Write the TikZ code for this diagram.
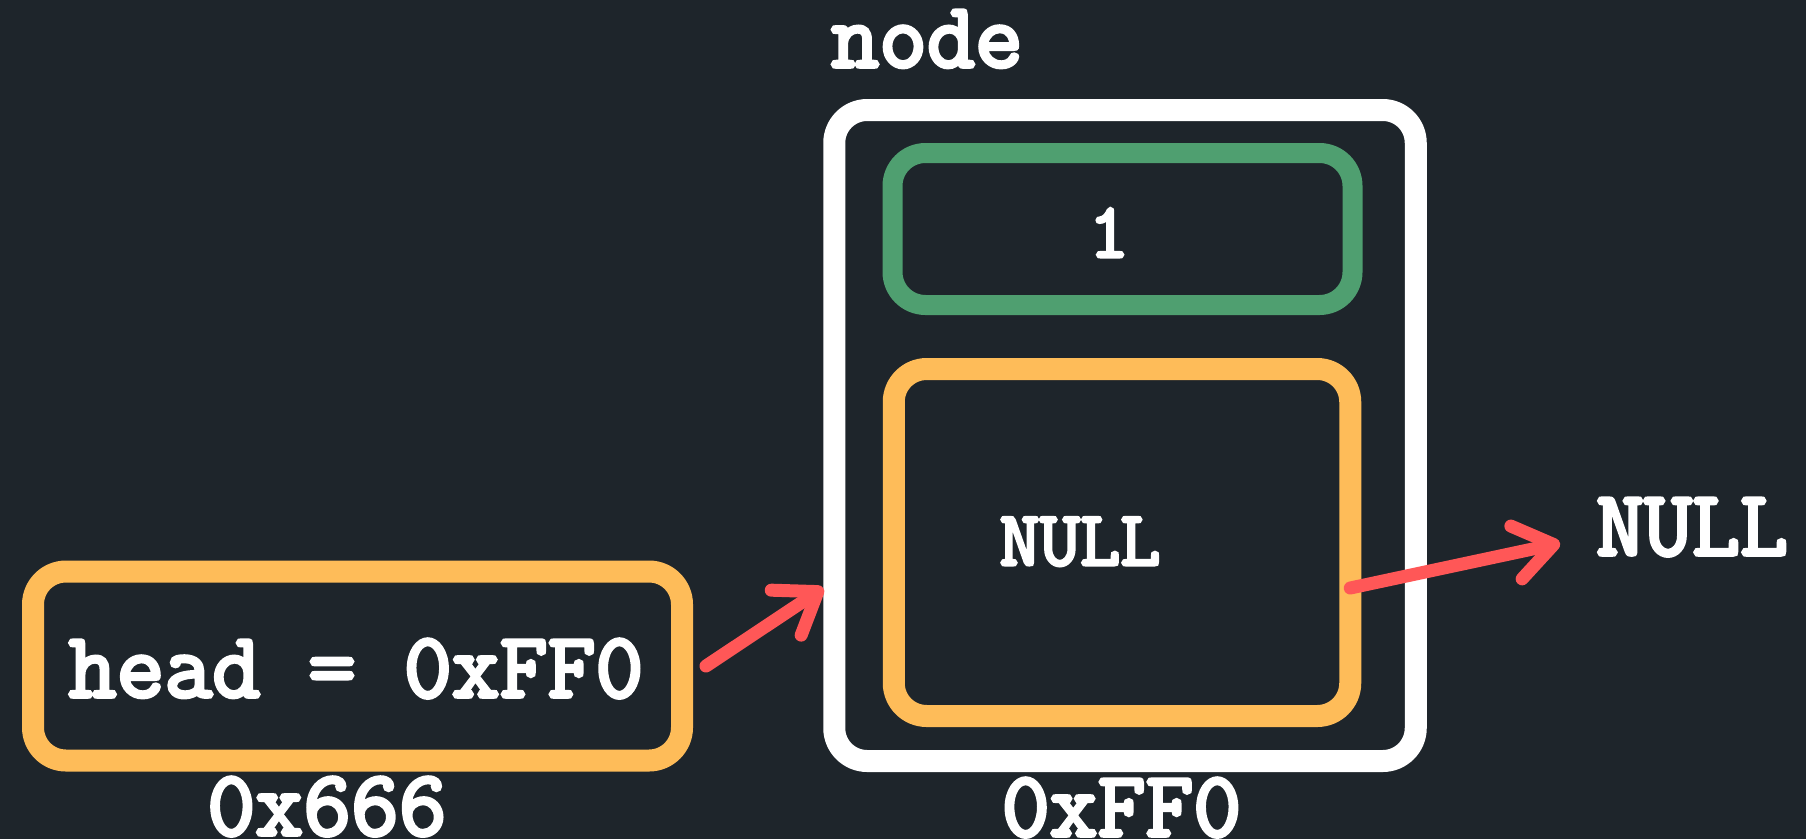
\documentclass[tikz,border=0pt]{standalone}
\usepackage{fontspec}
\newfontfamily\codefont{Latin Modern Mono}[FakeBold=4]
\usetikzlibrary{arrows.meta}
\definecolor{bg}{HTML}{1E252B}
\definecolor{ptrorange}{HTML}{FEBC59}
\definecolor{valgreen}{HTML}{4F9F70}
\definecolor{arrowred}{HTML}{FF5757}

\begin{document}
\begin{tikzpicture}[x=1pt,y=-1pt]
	\tikzstyle{box}=[draw,rounded corners=33pt,line width=22pt,inner sep=0pt]
	\tikzstyle{bigtxt}=[text=white,inner sep=0pt,anchor=base,font=\fontsize{93}{93}\selectfont\codefont]
	\tikzstyle{smalltxt}=[bigtxt,font=\fontsize{78}{78}\selectfont\codefont]
	\tikzstyle{ptr}=[draw=arrowred,line width=13pt,line cap=round,-{Straight Barb[length=38pt,width=54pt,round]}]
	\fill[bg] (0,0) rectangle (1806,839);
	\useasboundingbox (0,0) rectangle (1806,839);
	% the pointer variable
	\node[box,draw=ptrorange,minimum width=649pt,minimum height=189pt](head) at (357.5,666) {};
	\node[bigtxt](headtxt) at (356,697) {head = 0xFF0};
	\node[bigtxt](headaddr) at (327,835) {0x666};
	% the list node
	\node[box,draw=white,minimum width=581.5pt,minimum height=651pt](mem) at (1125,435.5) {};
	\node[bigtxt](memname) at (927,67) {node};
	\node[bigtxt](memaddr) at (1121.5,836) {0xFF0};
	\node[box,draw=valgreen,line width=20pt,minimum width=460pt,minimum height=152pt](data) at (1122.5,229) {};
	\node[smalltxt](datatxt) at (1109,257) {1};
	\node[box,draw=ptrorange,minimum width=456.5pt,minimum height=347pt](next) at (1122,542.5) {};
	\node[smalltxt](nexttxt) at (1080,565) {NULL};
	\node[bigtxt](nil) at (1692,555) {NULL};
	\draw[ptr] ([xshift=13pt]head.east) -- ([yshift=-152.5pt]mem.west);
	\draw[ptr] ([xshift=-11pt,yshift=-45.5pt]next.east) -- ([xshift=-36pt,yshift=-16pt]nil.west);
\end{tikzpicture}
\end{document}
